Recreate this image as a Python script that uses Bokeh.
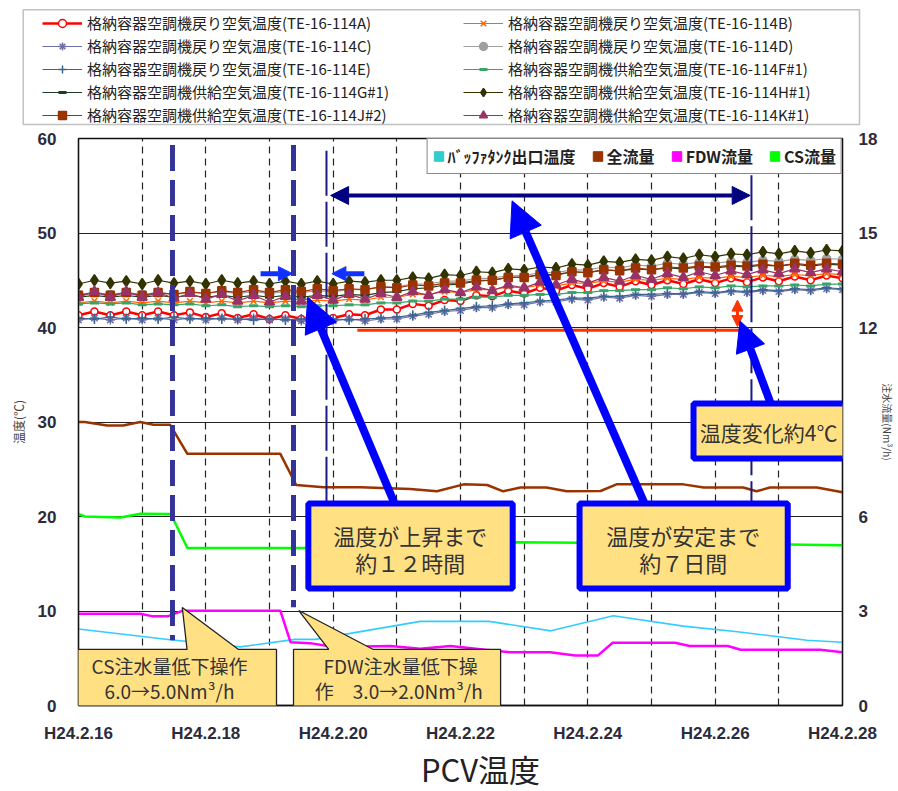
from bokeh.plotting import figure
from bokeh.layouts import column
from bokeh.models import (Range1d, LinearAxis, FixedTicker, Legend, LegendItem, Label,
                          PolyAnnotation, Arrow, NormalHead)
from bokeh.embed import file_html
from bokeh.resources import INLINE

FONT = "Noto Sans CJK JP"
LATIN = "Liberation Sans"
NAN = float("nan")

# ---------------- data ----------------
# time axis: days since H24.2.16, 6-hourly samples for the PCV temperatures
sample_days = [i * 0.25 for i in range(49)]
tick_days = [0, 2, 4, 6, 8, 10, 12]
tick_labels = ["H24.2.16", "H24.2.18", "H24.2.20", "H24.2.22", "H24.2.24", "H24.2.26", "H24.2.28"]
grid_days = [1, 2, 3, 4, 5, 6, 7, 8, 9, 10, 11]
temp_ticks = [0, 10, 20, 30, 40, 50, 60]
flow_ticks = [0, 3, 6, 12, 15, 18]   # "9" is hidden behind the note box in the original

temp_A = [41.3, 41.7, 41.3, 41.7, 41.3, 41.7, 41.3, 41.6,
          41.1, 41.5, 41.0, 41.4, 40.9, 41.3, 40.9, 41.3,
          41.0, 41.4, 41.3, 41.9, 41.9, 42.5, 42.3, 42.9,
          42.8, 43.4, 43.3, 43.9, 43.6, 44.2, 43.9, 44.5,
          44.1, 44.7, 44.3, 44.9, 44.5, 45.0, 44.6, 45.1,
          44.7, 45.2, 44.8, 45.3, 44.9, 45.4, 45.0, 45.5,
          45.2]
temp_B = [42.6, 42.8, 42.6, 42.8, 42.6, 42.8, 42.6, 42.8,
          42.6, 42.8, 42.6, 42.8, 42.6, 42.8, 42.7, 42.9,
          42.8, 43.0, 42.9, 43.2, 43.2, 43.5, 43.5, 43.8,
          43.7, 44.0, 44.0, 44.3, 44.2, 44.5, 44.4, 44.7,
          44.7, 44.9, 44.8, 45.1, 45.0, 45.2, 45.1, 45.3,
          45.2, 45.4, 45.3, 45.5, 45.4, 45.6, 45.5, 45.7,
          45.6]
temp_C = [40.8, 41.0, 40.8, 41.0, 40.8, 41.0, 40.8, 41.0,
          40.8, 41.0, 40.8, 41.0, 40.8, 40.9, 40.7, 40.9,
          40.7, 40.9, 40.7, 40.9, 40.9, 41.2, 41.4, 41.7,
          41.8, 42.1, 42.1, 42.4, 42.4, 42.7, 42.7, 43.0,
          42.9, 43.2, 43.1, 43.4, 43.3, 43.5, 43.5, 43.7,
          43.6, 43.8, 43.7, 43.9, 43.8, 44.0, 43.9, 44.1,
          44.0]
temp_D = [43.5, 43.7, 43.5, 43.7, 43.5, 43.7, 43.5, 43.7,
          43.6, 43.8, 43.6, 43.8, 43.6, 43.8, 43.7, 43.9,
          43.8, 44.0, 44.0, 44.3, 44.3, 44.6, 44.6, 44.9,
          44.9, 45.2, 45.2, 45.5, 45.5, 45.8, 45.8, 46.1,
          46.1, 46.4, 46.3, 46.6, 46.5, 46.8, 46.7, 46.9,
          46.8, 47.0, 46.9, 47.1, 47.0, 47.2, 47.1, 47.3,
          47.2]
temp_E = [41.0, 40.9, 41.1, 40.9, 41.0, 40.9, 41.1, 40.9,
          41.0, 40.9, 40.9, 40.8, 40.9, 40.8, 40.9, 40.8,
          40.9, 40.8, 40.9, 41.0, 41.1, 41.3, 41.6, 41.8,
          42.0, 42.2, 42.3, 42.5, 42.6, 42.8, 42.9, 43.1,
          43.1, 43.3, 43.3, 43.5, 43.5, 43.6, 43.6, 43.8,
          43.7, 43.9, 43.8, 44.0, 43.9, 44.1, 44.0, 44.2,
          44.1]
temp_F = [42.5, 42.6, 42.5, 42.6, 42.4, 42.5, 42.4, 42.5,
          42.3, 42.4, 42.2, 42.3, 42.2, 42.3, 42.2, 42.3,
          42.3, 42.4, 42.4, 42.6, 42.6, 42.8, 42.8, 43.0,
          43.0, 43.2, 43.2, 43.4, 43.4, 43.5, 43.5, 43.7,
          43.7, 43.9, 43.9, 44.0, 44.0, 44.2, 44.1, 44.3,
          44.2, 44.4, 44.3, 44.4, 44.4, 44.5, 44.4, 44.6,
          44.6]
temp_G = [43.2, 43.4, 43.2, 43.4, 43.2, 43.4, 43.2, 43.4,
          43.2, 43.4, 43.2, 43.4, 43.2, 43.4, 43.2, 43.4,
          43.3, 43.5, 43.4, 43.7, 43.8, 44.1, 44.2, 44.5,
          44.6, 44.9, 45.0, 45.3, 45.3, 45.6, 45.6, 45.9,
          45.8, 46.1, 46.0, 46.2, 46.1, 46.3, 46.2, 46.4,
          46.3, 46.5, 46.4, 46.6, 46.5, 46.7, 46.5, 46.7,
          46.6]
temp_H = [44.6, 45.0, 44.7, 44.9, 44.6, 45.0, 44.7, 44.9,
          44.6, 45.0, 44.7, 44.9, 44.6, 44.9, 44.6, 44.9,
          44.6, 44.9, 44.8, 45.0, 45.0, 45.3, 45.2, 45.6,
          45.5, 45.9, 45.8, 46.2, 46.1, 46.4, 46.3, 46.7,
          46.6, 47.0, 46.9, 47.2, 47.1, 47.5, 47.3, 47.7,
          47.5, 47.8, 47.7, 48.0, 47.8, 48.1, 47.9, 48.2,
          48.1]
temp_J = [43.4, 43.7, 43.4, 43.7, 43.4, 43.7, 43.5, 43.8,
          43.6, 43.9, 43.7, 44.0, 43.7, 44.0, 43.8, 44.1,
          43.9, 44.1, 44.0, 44.3, 44.2, 44.5, 44.4, 44.7,
          44.7, 45.0, 45.0, 45.3, 45.3, 45.6, 45.5, 45.9,
          45.8, 46.1, 46.0, 46.3, 46.1, 46.4, 46.3, 46.5,
          46.4, 46.6, 46.5, 46.7, 46.5, 46.8, 46.6, 46.8,
          46.7]
temp_K = [43.2, 43.8, 43.2, 43.8, 43.2, 43.7, 43.1, 43.6,
          43.0, 43.5, 42.8, 43.4, 42.7, 43.3, 42.8, 43.4,
          42.9, 43.5, 43.0, 43.6, 43.2, 43.8, 43.4, 44.0,
          43.7, 44.3, 43.9, 44.5, 44.2, 44.8, 44.5, 45.1,
          44.7, 45.3, 44.9, 45.5, 45.1, 45.7, 45.3, 45.9,
          45.5, 46.0, 45.6, 46.1, 45.7, 46.2, 45.8, 46.2,
          45.9]

# buffer tank outlet temperature (degC, left axis)
buffer_days = [0, 1.44, 2.54, 3.4, 3.72, 5.37, 6.45, 7.42, 8.4, 9.5, 10.35, 10.97, 11.44, 12.0]
buffer_temp = [8.1, 6.95, 6.2, 7.0, 7.0, 8.9, 8.9, 7.9, 9.5, 8.4, 7.8, 7.3, 6.9, 6.7]

# flows (Nm3/h, right axis)
total_days = [0, 0.1, 0.45, 0.7, 0.97, 1.18, 1.44, 1.71, 3.17, 3.42, 3.85, 4.43, 5.21, 5.63, 6.05,
              6.42, 6.67, 6.94, 7.35, 7.67, 8.2, 8.45, 9.5, 9.82, 10.44, 10.65, 10.86, 11.6, 12.0]
total_flow = [9.0, 9.0, 8.89, 8.89, 9.0, 8.91, 8.91, 7.99, 7.99, 7.0, 6.93, 6.93, 6.87, 6.8, 7.02,
              7.0, 6.8, 6.92, 6.92, 6.8, 6.81, 7.02, 7.02, 6.92, 6.92, 6.8, 6.92, 6.92, 6.77]
fdw_days = [0, 0.97, 1.17, 1.4, 1.64, 3.17, 3.33, 3.64, 3.96, 4.43, 4.9, 5.37, 5.84, 6.39, 6.78,
            7.41, 7.8, 8.16, 8.39, 9.37, 9.6, 10.2, 10.4, 11.65, 12.0]
fdw_flow = [2.91, 2.91, 2.83, 2.83, 3.01, 3.01, 2.01, 1.98, 1.87, 1.87, 1.89, 1.8, 1.89, 1.77, 1.69,
            1.69, 1.59, 1.59, 1.99, 1.99, 1.89, 1.89, 1.77, 1.77, 1.69]
cs_days = [0, 0.1, 0.66, 0.97, 1.45, 1.71, 3.59, 6.89, 11.15, 12.0]
cs_flow = [6.08, 6.0, 5.97, 6.09, 6.08, 5.0, 5.0, 5.18, 5.11, 5.09]

temp_names = [
    "格納容器空調機戻り空気温度(TE-16-114A)",
    "格納容器空調機戻り空気温度(TE-16-114B)",
    "格納容器空調機戻り空気温度(TE-16-114C)",
    "格納容器空調機戻り空気温度(TE-16-114D)",
    "格納容器空調機戻り空気温度(TE-16-114E)",
    "格納容器空調機供給空気温度(TE-16-114F#1)",
    "格納容器空調機供給空気温度(TE-16-114G#1)",
    "格納容器空調機供給空気温度(TE-16-114H#1)",
    "格納容器空調機供給空気温度(TE-16-114J#2)",
    "格納容器空調機供給空気温度(TE-16-114K#1)",
]
temp_values = [temp_A, temp_B, temp_C, temp_D, temp_E, temp_F, temp_G, temp_H, temp_J, temp_K]
flow_legend_names = ["ﾊﾞｯﾌｧﾀﾝｸ出口温度", "全流量", "FDW流量", "CS流量"]
chart_title = "PCV温度"

# ---------------- styles ----------------
# (color, marker, marker size, marker fill, line width)
temp_styles = [
    ("#ff0000", "circle", 7, "white", 2.5),
    ("#ff6600", "x", 8, None, 1.2),
    ("#6f6fa8", "asterisk", 9, None, 1.2),
    ("#a0a0a0", "circle", 8, "#a0a0a0", 1.2),
    ("#3a6791", "cross", 10, None, 1.2),
    ("#3aa36a", "dash", 9, None, 1.2),
    ("#1f3d1f", "dash", 9, None, 1.2),
    ("#333300", "diamond", 11, "#333300", 1.2),
    ("#993300", "square", 8, "#993300", 1.2),
    ("#993366", "triangle", 10, "#993366", 1.2),
]


def draw_series(fig, xs, ys, style):
    col, mk, ms, mfill, lw = style
    lr = fig.line(xs, ys, line_color=col, line_width=lw)
    sr = fig.scatter(xs, ys, marker=mk, size=ms, line_color=col,
                     fill_color=mfill if mfill else col,
                     line_width=1.5 if mk != "dash" else 3)
    return lr, sr


def no_align(fig):
    if "frame_align" in fig.properties():
        fig.frame_align = False


W = 898
LEG_H = 130
TITLE_H = 46
MAIN_H = 791 - LEG_H - TITLE_H

# ================= legend strip (top) =================
pl = figure(width=W, height=LEG_H, x_range=Range1d(0, W), y_range=Range1d(0, LEG_H),
            output_backend="svg", toolbar_location=None, min_border=0,
            x_axis_location=None, y_axis_location=None,
            background_fill_color="white", border_fill_color="white")
no_align(pl)
pl.outline_line_color = None
pl.grid.visible = False
legend_items = []
for name, style in zip(temp_names, temp_styles):
    lr, sr = draw_series(pl, [NAN], [NAN], style)
    legend_items.append(LegendItem(label=name, renderers=[lr, sr]))
pl.add_layout(PolyAnnotation(xs=[22.7, 859, 859, 22.7], ys=[120.7, 120.7, 6, 6],
                             fill_alpha=0, line_color="#333333", line_width=1.5))
top_legend = Legend(items=legend_items, location=(42, 5), orientation="horizontal", ncols=2,
                    label_text_font=FONT, label_text_font_size="15px", label_text_color="#222222",
                    glyph_width=40, glyph_height=20, label_height=20, label_width=374,
                    label_standoff=5, spacing=2, padding=0, margin=0,
                    border_line_color=None, background_fill_alpha=0)
pl.add_layout(top_legend, "center")

# ================= main chart =================
p = figure(width=W, height=MAIN_H, x_range=Range1d(0, 12), y_range=Range1d(0, 60),
           output_backend="svg", toolbar_location=None,
           min_border_left=78, min_border_right=56, min_border_top=8,
           min_border_bottom=MAIN_H - 8 - 567,
           background_fill_color="white", border_fill_color="white")
no_align(p)
p.extra_y_ranges = {"flow": Range1d(0, 18)}
p.outline_line_color = "#111111"
p.outline_line_width = 1.3

tick_color = "#2b2b3b"
p.xaxis.ticker = FixedTicker(ticks=tick_days)
p.xaxis.major_label_overrides = {d: l for d, l in zip(tick_days, tick_labels)}
p.yaxis.ticker = FixedTicker(ticks=temp_ticks)
p.yaxis.axis_label = "温度(℃)"
ra = LinearAxis(y_range_name="flow", ticker=FixedTicker(ticks=flow_ticks),
                axis_label="注水流量(Nm³/h)")
p.add_layout(ra, "right")
for ax in [p.xaxis[0], p.yaxis[0], ra]:
    ax.major_tick_line_color = None
    ax.minor_tick_line_color = None
    ax.axis_line_color = "#111111"
    ax.axis_line_width = 1.3
    ax.major_label_text_font = LATIN
    ax.major_label_text_font_style = "bold"
    ax.major_label_text_font_size = "17px"
    ax.major_label_text_color = tick_color
    ax.axis_label_text_font = FONT
    ax.axis_label_text_font_style = "normal"
    ax.axis_label_text_font_size = "12px"
    ax.axis_label_text_color = "#444444"
p.xaxis.major_label_standoff = 12
p.yaxis.major_label_standoff = 16
p.yaxis.axis_label_standoff = 8
ra.major_label_standoff = 10
ra.axis_label_standoff = 0
ra.axis_label_text_font_size = "10px"

# grids
p.xgrid.ticker = FixedTicker(ticks=grid_days)
p.xgrid.grid_line_color = "#222222"
p.xgrid.grid_line_dash = "7 5"
p.xgrid.grid_line_width = 1.2
p.ygrid.ticker = FixedTicker(ticks=[10, 20, 30, 40, 50])
p.ygrid.grid_line_color = "#222222"
p.ygrid.grid_line_width = 1.2

# flow series and buffer tank temperature
p.line(buffer_days, buffer_temp, line_color="#33ccff", line_width=1.6)
p.line(total_days, total_flow, y_range_name="flow", line_color="#993300", line_width=2.5)
p.line(fdw_days, fdw_flow, y_range_name="flow", line_color="#ff00ff", line_width=2.5)
p.line(cs_days, cs_flow, y_range_name="flow", line_color="#00ff00", line_width=2.5)

# temperature series
for vals, style in zip(temp_values, temp_styles):
    draw_series(p, sample_days, vals, style)

# event lines
p.segment(x0=[1.476, 3.377], y0=[59.3, 59.3], x1=[1.476, 3.377], y1=[6.9, 10.4],
          line_color="#333399", line_width=5, line_dash="26 9")
p.segment(x0=[3.895, 10.57], y0=[58.7, 56.1], x1=[3.895, 10.57], y1=[20.0, 20.0],
          line_color="#1a1a80", line_width=2, line_dash="45 6")
p.segment(x0=[4.38], y0=[39.7], x1=[10.40], y1=[39.7], line_color="#ff3300", line_width=3)

# legend swatches for the flow legend
flow_colors = ["#33cccc", "#993300", "#ff00ff", "#00ff00"]
flow_items = []
for name, col in zip(flow_legend_names, flow_colors):
    q = p.quad(left=[NAN], right=[NAN], top=[NAN], bottom=[NAN], fill_color=col, line_color=col)
    flow_items.append(LegendItem(label=name, renderers=[q]))


def arrow(x0, y0, x1, y1, color, width, head, both=False):
    end = NormalHead(size=head, fill_color=color, line_color=color, line_width=1)
    start = NormalHead(size=head, fill_color=color, line_color=color, line_width=1) if both else None
    p.add_layout(Arrow(x_start=x0, y_start=y0, x_end=x1, y_end=y1, start=start, end=end,
                       line_color=color, line_width=width))


arrow(3.96, 53.97, 10.55, 53.97, "#000080", 4, 18, both=True)
arrow(2.86, 45.7, 3.36, 45.7, "#1030ff", 5, 14)
arrow(4.49, 45.7, 3.98, 45.7, "#1030ff", 5, 14)
arrow(10.35, 40.1, 10.35, 42.9, "#ff3300", 3, 11, both=True)
arrow(5.05, 20.0, 3.6, 43.2, "#0000ff", 8, 34)
arrow(8.98, 20.0, 6.81, 53.4, "#0000ff", 8, 34)
arrow(10.98, 30.0, 10.39, 40.7, "#0000ff", 8, 30)

YELLOW = "#ffe083"


def poly(xs, ys, line, lw):
    p.add_layout(PolyAnnotation(xs=xs, ys=ys, fill_color=YELLOW, fill_alpha=1,
                                line_color=line, line_width=lw, line_alpha=1))


def text(x, y, s, size):
    p.add_layout(Label(x=x, y=y, text=s, text_font=FONT, text_font_size=size,
                       text_align="center", text_baseline="middle", text_color="#333333"))


# highlighted boxes
poly([3.61, 6.82, 6.82, 3.61], [21.38, 21.38, 12.38, 12.38], "#0000ff", 6)
poly([7.87, 11.14, 11.14, 7.87], [21.38, 21.38, 12.38, 12.38], "#0000ff", 6)
poly([9.66, 12.86, 12.86, 9.66], [31.96, 31.96, 26.14, 26.14], "#0000ff", 6)
text(5.21, 18.0, "温度が上昇まで", "22px")
text(5.21, 15.2, "約１２時間", "22px")
text(9.50, 18.0, "温度が安定まで", "22px")
text(9.50, 15.2, "約７日間", "22px")
text(10.84, 28.9, "温度変化約4℃", "21px")

# operation callouts
poly([-0.25, 1.705, 1.63, 2.513, 3.11, 3.11, -0.25],
     [5.93, 5.93, 10.37, 5.93, 5.93, -0.21, -0.21], "#222222", 1.3)
poly([3.377, 3.93, 3.46, 4.63, 6.63, 6.63, 3.377],
     [5.93, 5.93, 10.05, 5.93, 5.93, -0.21, -0.21], "#222222", 1.3)
text(1.43, 4.2, "CS注水量低下操作", "19px")
text(1.43, 1.6, "6.0→5.0Nm³/h", "19px")
text(5.06, 4.2, "FDW注水量低下操", "19px")
text(5.03, 1.6, "作　3.0→2.0Nm³/h", "19px")

flow_legend = Legend(items=flow_items, location="top_right", orientation="horizontal",
                     label_text_font=FONT, label_text_font_style="bold",
                     label_text_font_size="16px", label_text_color="#222222",
                     glyph_width=12, glyph_height=12, label_height=16, label_standoff=3,
                     spacing=16, padding=5, margin=0,
                     border_line_color="#111111", border_line_width=1.5,
                     background_fill_color="white", background_fill_alpha=1)
p.add_layout(flow_legend, "center")

# ================= title strip (bottom) =================
pt = figure(width=W, height=TITLE_H, x_range=Range1d(0, W), y_range=Range1d(0, TITLE_H),
            output_backend="svg", toolbar_location=None, min_border=0,
            x_axis_location=None, y_axis_location=None,
            background_fill_color="white", border_fill_color="white")
no_align(pt)
pt.outline_line_color = None
pt.grid.visible = False
pt.add_layout(Label(x=480, y=TITLE_H / 2, text=chart_title, text_font=FONT, text_font_size="31px",
                    text_align="center", text_baseline="middle", text_color="#222222"))

layout = column(pl, p, pt, spacing=0)
open("out.html", "w").write(file_html(layout, INLINE))
